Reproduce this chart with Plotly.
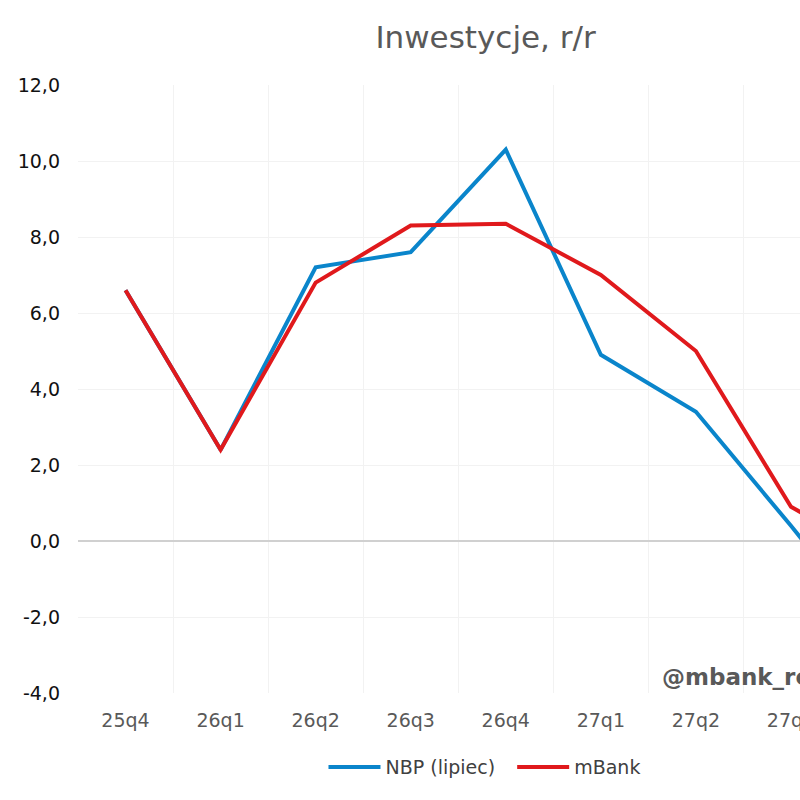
import plotly.graph_objects as go

quarters = ["25q4", "26q1", "26q2", "26q3", "26q4", "27q1", "27q2", "27q3", "27q4"]
nbp = [6.6, 2.4, 7.2, 7.6, 10.3, 4.9, 3.4, 0.4, -2.7]
mbank = [6.6, 2.4, 6.8, 8.3, 8.35, 7.0, 5.0, 0.9, -0.5]
y_ticks = [-4, -2, 0, 2, 4, 6, 8, 10, 12]
y_ticktext = ["-4,0", "-2,0", "0,0", "2,0", "4,0", "6,0", "8,0", "10,0", "12,0"]

fig = go.Figure()
fig.add_trace(go.Scatter(x=quarters, y=nbp, mode="lines", name="NBP (lipiec)&nbsp;&nbsp;",
                         line=dict(color="#0A85CB", width=4)))
fig.add_trace(go.Scatter(x=quarters, y=mbank, mode="lines", name="mBank",
                         line=dict(color="#E0191C", width=4)))

font_fam = "DejaVu Sans, Verdana, sans-serif"
fig.update_layout(
    width=800, height=800,
    margin=dict(l=78, r=0, t=85, b=107, autoexpand=False),
    paper_bgcolor="white", plot_bgcolor="white",
    separators=", ",
    font=dict(family=font_fam, color="#595959"),
    title=dict(text="Inwestycje, r/r", x=0.607, xref="container", xanchor="center",
               y=0.953, yanchor="middle", font=dict(size=31, color="#595959", family=font_fam)),
    showlegend=True,
    legend=dict(orientation="h", x=0.563, xanchor="center", y=-0.122, yanchor="middle",
                font=dict(size=19, color="#404040", family=font_fam), itemwidth=52),
    xaxis=dict(type="category", range=[-0.5, 7.095], tickson="boundaries",
               showgrid=True, gridcolor="#F2F2F2", gridwidth=1, ticks="",
               showline=False, tickfont=dict(size=19, color="#595959"),
               ticklabelstandoff=14),
    yaxis=dict(range=[-4, 12], tickvals=y_ticks, ticktext=y_ticktext,
               showgrid=True, gridcolor="#F2F2F2", gridwidth=1,
               zeroline=True, zerolinecolor="#D0D0D0", zerolinewidth=1.5,
               showline=False, ticks="", tickfont=dict(size=19, color="#111111"),
               ticklabelstandoff=17),
)
fig.add_annotation(text="<b>@mbank_research</b>", xref="paper", yref="y",
                   x=(660 - 78) / 722, y=-3.58, xanchor="left", yanchor="middle",
                   showarrow=False, font=dict(size=23, color="#595959", family=font_fam))

fig.write_html("out.html")
